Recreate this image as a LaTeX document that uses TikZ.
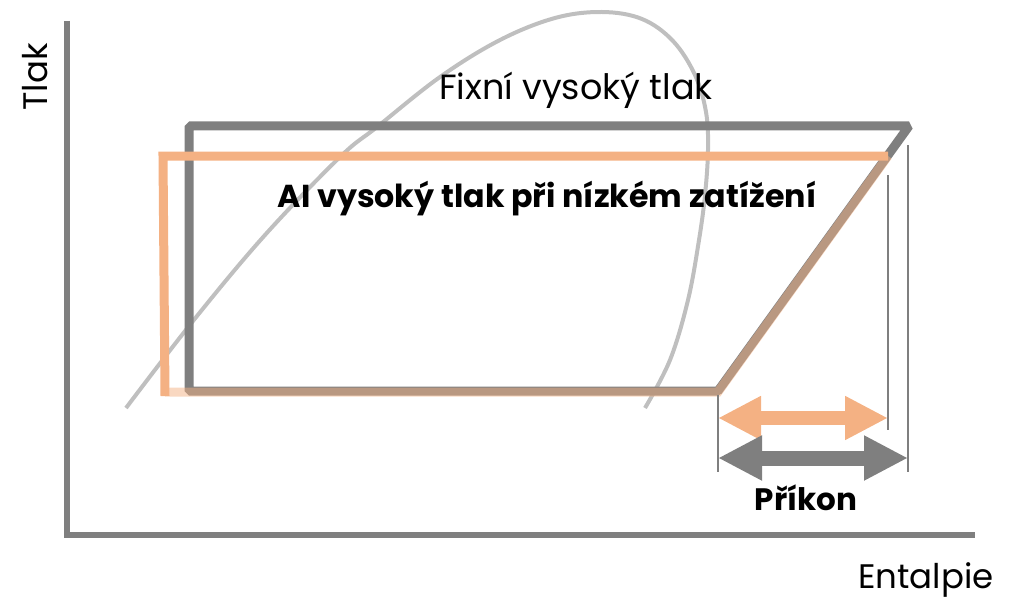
\documentclass[tikz,border=0pt]{standalone}
\usepackage{fontspec}
\setmainfont{Poppins}
\usetikzlibrary{arrows.meta}
\definecolor{cgray}{HTML}{7F7F7F}
\definecolor{corange}{HTML}{F4B183}
\definecolor{cdome}{HTML}{BFBFBF}
\begin{document}
\begin{tikzpicture}[x=1pt,y=-1pt,
  axisline/.style={cgray,line width=6pt},
  cycgray/.style={cgray,line width=9pt,line join=bevel},
  cycorange/.style={corange,line width=9pt,line join=miter},
  thinline/.style={cgray,line width=1.5pt},
  dome/.style={cdome,line width=4pt},
  lbl/.style={inner sep=0pt,anchor=base,text=black}]
\useasboundingbox (0,0) rectangle (1014,599);
% axes
\coordinate (ytop) at (67,21);
\coordinate (origin) at (67,535);
\coordinate (xend) at (975,535);
\draw[axisline] (ytop) -- (origin) -- (xend);
% dome
\draw[dome] plot[smooth,tension=0.6] coordinates {(126,408) (193,321) (265,235) (340,157) (377,127) (440,77) (500,40) (555,18) (602,12) (642,19) (673,41) (695,75) (706,112) (708,150) (705,195) (699,240) (688,300) (670,360) (645,408)};
% gray cycle
\coordinate (g1) at (189,126);
\coordinate (g2) at (909,126);
\coordinate (g3) at (718,391);
\coordinate (g4) at (189,391);
\draw[cycgray] (g1) -- (g2) -- (g3) -- (g4) -- cycle;
% orange cycle
\coordinate (o1) at (888,156);
\coordinate (o2) at (163,156);
\coordinate (o3) at (165,396);
\coordinate (o4) at (165,392);
\coordinate (o5) at (718,392);
\draw[cycorange] (o1) -- (o2) -- (o3);
\draw[cycorange,opacity=0.5] (o4) -- (o5) -- (o1);
% thin guide lines
\coordinate (t1a) at (718,395);
\coordinate (t1b) at (718,472);
\coordinate (t2a) at (888,175);
\coordinate (t2b) at (888,430);
\coordinate (t3a) at (908,145);
\coordinate (t3b) at (908,472);
\draw[thinline] (t1a) -- (t1b);
\draw[thinline] (t2a) -- (t2b);
\draw[thinline] (t3a) -- (t3b);
% double arrows
\coordinate (a1l) at (718,418);
\coordinate (a1r) at (888,418);
\coordinate (a2l) at (718,458);
\coordinate (a2r) at (908,458);
\draw[corange,line width=14pt,{Triangle[length=43pt,width=41pt]}-{Triangle[length=43pt,width=41pt]}] (a1l) -- (a1r);
\draw[cgray,line width=15pt,{Triangle[length=44pt,width=42pt]}-{Triangle[length=44pt,width=42pt]}] (a2l) -- (a2r);
% labels
\node[lbl,font=\fontsize{35}{35}\selectfont] (fix) at (576,100) {Fixní vysoký tlak};
\node[lbl,font=\bfseries\fontsize{31.7}{31.7}\selectfont] (ai) at (547,207) {AI vysoký tlak při nízkém zatížení};
\node[lbl,font=\bfseries\fontsize{31}{31}\selectfont] (pr) at (806,510) {Příkon};
\node[lbl,font=\fontsize{34}{34}\selectfont] (en) at (926,588) {Entalpie};
\node[inner sep=0pt,rotate=90,font=\fontsize{34}{34}\selectfont] (tl) at (35,77) {Tlak};
\end{tikzpicture}
\end{document}
